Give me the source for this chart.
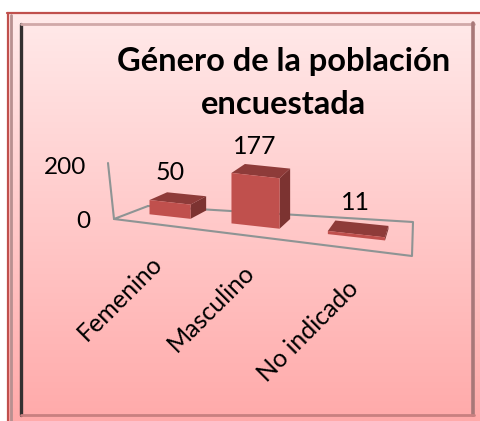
import numpy as np, pandas as pd, matplotlib
matplotlib.use("Agg")
import matplotlib.pyplot as plt, seaborn as sns
from matplotlib.transforms import Transform, IdentityTransform
from matplotlib.patches import Polygon, Rectangle
from matplotlib.lines import Line2D

categories = ["Femenino", "Masculino", "No indicado"]
values = [50, 177, 11]
y_ticks = [0, 200]
title = "Género de la población\nencuestada"

W, H = 481, 421
sns.set_theme(style="white")
plt.rcParams['font.family'] = ['Lato', 'DejaVu Sans']
fig = plt.figure(figsize=(W/100, H/100), dpi=100)

# background gradient
bg = fig.add_axes([0, 0, 1, 1], zorder=0); bg.axis('off')
top, bot = np.array([255, 236, 236])/255, np.array([255, 170, 170])/255
t = np.linspace(0, 1, 256)[:, None, None]
bg.imshow(top*(1-t)+bot*t, aspect='auto', extent=[0, W, H, 0])
bg.set_xlim(0, W); bg.set_ylim(H, 0)

# picture frame
bg.add_patch(Rectangle((0, 0), W, 12, color='white', lw=0, zorder=3))
bg.add_patch(Rectangle((0, 0), 7, H, color='white', lw=0, zorder=3))
bg.plot([7, W], [13, 13], color='#C0504D', lw=1.6, zorder=4)
bg.plot([8, 8], [13, H], color='#C0504D', lw=1.6, zorder=4)
bg.plot([11, 11], [15, H], color='#B89090', lw=2, zorder=4)
bg.plot([21, 21], [24, 415], color='#333030', lw=2.4, zorder=4)
bg.plot([21, 474], [24, 24], color='#D0A8A8', lw=2, zorder=4)
bg.plot([473.5, 473.5], [23, 415], color='#A87878', lw=2.6, zorder=4)
bg.plot([21, 474], [414.5, 414.5], color='#C88080', lw=2, zorder=4)

# perspective of the floor plane: (category position, depth) -> image pixels
bar_width = 0.52
hw = bar_width/2
src = [(i+s, d) for d in (0, 1) for i in range(3) for s in (-hw, hw)]
dst = [(148, 213), (193, 219), (229, 224), (283, 229), (325, 234), (386, 241),
       (167, 206), (209, 208), (240, 219), (293, 222), (335, 221), (388, 227)]
A = []; b = []
for (u, d), (px, py) in zip(src, dst):
    A.append([u, d, 1, 0, 0, 0, -px*u, -px*d]); b.append(px)
    A.append([0, 0, 0, u, d, 1, -py*u, -py*d]); b.append(py)
sol = np.linalg.lstsq(np.array(A, float), np.array(b, float), rcond=None)[0]
H3 = np.append(sol, 1).reshape(3, 3)
K = 0.285

def project(u, d, v):
    u, d, v = np.asarray(u, float), np.asarray(d, float), np.asarray(v, float)
    p = H3 @ np.array([u, d, np.ones_like(u)])
    return p[0]/p[2], p[1]/p[2] - K*v

def disp(x, y):
    return np.column_stack([x, H - np.asarray(y)])

class FrontFace(Transform):
    input_dims = output_dims = 2
    def __init__(self, bar_depth):
        super().__init__(); self.bar_depth = bar_depth
    def transform_non_affine(self, xy):
        xy = np.asarray(xy, float)
        x, y = project(xy[:, 0], np.full(len(xy), self.bar_depth), xy[:, 1])
        return disp(x, y)

ax = fig.add_axes([0, 0, 1, 1], zorder=1); ax.patch.set_alpha(0)
df = pd.DataFrame({"cat": categories, "val": values})
sns.barplot(data=df, x="cat", y="val", color="#C0504D", saturation=1, width=bar_width, ax=ax)
ax.axis('off')

d0, d1 = 0.0, 1.0
front = FrontFace(d0)
for bar in list(ax.patches):
    x0, w, h = bar.get_x(), bar.get_width(), bar.get_height()
    x1 = x0 + w
    bar.set_transform(front); bar.set_clip_on(False); bar.set_zorder(6); bar.set_linewidth(0)
    tp = [project(x0, d0, h), project(x1, d0, h), project(x1, d1, h), project(x0, d1, h)]
    sd = [project(x1, d0, h), project(x1, d1, h), project(x1, d1, 0), project(x1, d0, 0)]
    ax.add_patch(Polygon(disp(*zip(*tp)), transform=IdentityTransform(), color='#8E3B39', lw=0, zorder=5, clip_on=False))
    ax.add_patch(Polygon(disp(*zip(*sd)), transform=IdentityTransform(), color='#7C3331', lw=0, zorder=5, clip_on=False))

# floor & wall
floor = np.array([[148, 206], [114, 219], [412, 256], [413, 222], [148, 206]], float)
fl = disp(floor[:, 0], floor[:, 1])
grey = '#8E9494'
fig.add_artist(Line2D(fl[:, 0], fl[:, 1], transform=IdentityTransform(), color=grey, lw=1.5, zorder=1))
wall = disp([108, 114], [163, 219])
fig.add_artist(Line2D(wall[:, 0], wall[:, 1], transform=IdentityTransform(), color=grey, lw=1.5, zorder=1))

# texts in pixel coordinates
tx = fig.add_axes([0, 0, 1, 1], zorder=3); tx.axis('off'); tx.set_xlim(0, W); tx.set_ylim(H, 0)
tx.text(284, 83, title, ha='center', va='center', fontsize=23.5, fontweight='bold', color='black', linespacing=1.55)
for tick, (xp, yp) in zip(y_ticks, [(83, 222), (65, 167)]):
    tx.text(xp, yp, str(tick), ha='center', va='center', fontsize=17.5, color='black')
for val, (xp, yp) in zip(values, [(170, 173), (255, 146), (355, 203)]):
    tx.text(xp, yp, str(val), ha='center', va='center', fontsize=18, color='black')
for cat, (xp, yp) in zip(categories, [(150, 252), (243, 260), (347, 277)]):
    tx.text(xp, yp, cat, ha='right', va='top', rotation=45, rotation_mode='anchor', fontsize=18, color='black')

fig.savefig("out.png", dpi=100)
